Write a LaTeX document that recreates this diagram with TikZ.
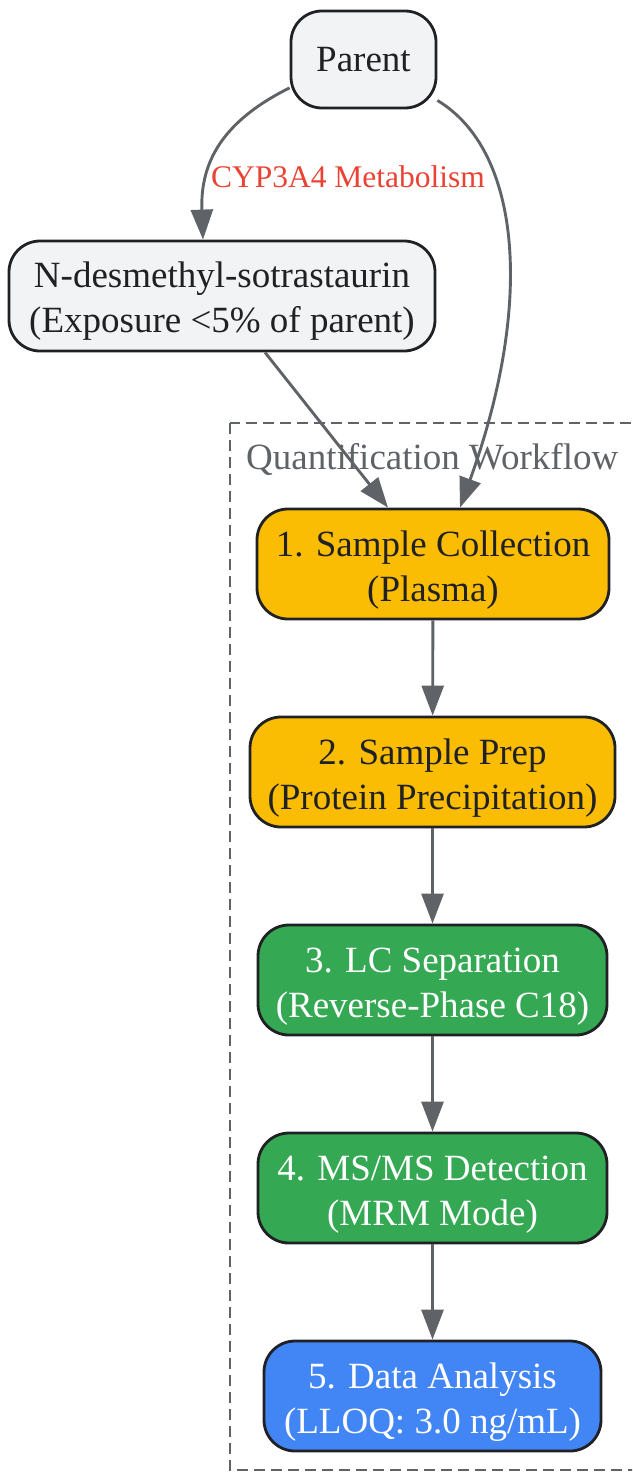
\documentclass[tikz,border=0pt]{standalone}
\usepackage{fontspec}
\setmainfont{Liberation Serif}
\usetikzlibrary{arrows.meta}
\definecolor{greyfill}{HTML}{F1F3F4}
\definecolor{ink}{HTML}{202124}
\definecolor{edgegrey}{HTML}{5F6368}
\definecolor{yelfill}{HTML}{FBBC04}
\definecolor{grnfill}{HTML}{34A853}
\definecolor{blufill}{HTML}{4285F4}
\definecolor{lblred}{HTML}{EA4335}
\newcommand{\lowtext}[2]{\raisebox{-#1}[\height][\depth]{\begin{tabular}{@{}c@{}}#2\end{tabular}}}
\tikzset{
  box/.style={draw=ink, line width=2.8pt, rounded corners=31pt, align=center, inner sep=0pt,
    minimum height=110pt, font=\fontsize{37}{45}\selectfont, text=ink},
  greybox/.style={box, fill=greyfill},
  yelbox/.style={box, fill=yelfill},
  grnbox/.style={box, fill=grnfill, text=white},
  blubox/.style={box, fill=blufill, text=white},
  conn/.style={draw=edgegrey, line width=2.9pt, -{Triangle[length=30pt,width=22pt]}},
}
\begin{document}
\begin{tikzpicture}[x=1pt,y=-1pt]
\useasboundingbox (0,0) rectangle (632,1472);
\clip (0,0) rectangle (632,1472);
% cluster
\draw[edgegrey, line width=2.8pt, dash pattern=on 11pt off 6pt] (230,423) rectangle (650,1470);
\node[text=edgegrey, font=\fontsize{37}{45}\selectfont, anchor=west, inner sep=0pt] (cl) at (246,459) {Quantification Workflow};
% nodes
\node[greybox, minimum width=145pt, minimum height=97pt] (parent) at (363.5,59.5) {\lowtext{3pt}{Parent}};
\node[greybox, minimum width=426pt] (nd) at (222,296) {\lowtext{5pt}{N-desmethyl-sotrastaurin\\(Exposure <5\% of parent)}};
\node[yelbox, minimum width=352pt] (n1) at (433,564) {\lowtext{6pt}{1. Sample Collection\\(Plasma)}};
\node[yelbox, minimum width=365pt] (n2) at (432.5,772) {\lowtext{6pt}{2. Sample Prep\\(Protein Precipitation)}};
\node[grnbox, minimum width=349pt] (n3) at (432.5,980) {\lowtext{6pt}{3. LC Separation\\(Reverse-Phase C18)}};
\node[grnbox, minimum width=349pt] (n4) at (432.5,1188) {\lowtext{6pt}{4. MS/MS Detection\\(MRM Mode)}};
\node[blubox, minimum width=337pt] (n5) at (432.5,1396) {\lowtext{6pt}{5. Data Analysis\\(LLOQ: 3.0 ng/mL)}};
% edges
\draw[conn] (parent.201) .. controls (225,120) and (200,160) .. ([xshift=-19pt]nd.north);
\node[text=lblred, font=\fontsize{31.5}{38}\selectfont, inner sep=0pt] (lbl) at (348,177) {CYP3A4 Metabolism};
\draw[conn] (parent.331) .. controls (520,150) and (535,300) .. ([xshift=27pt]n1.north);
\draw[conn] ([xshift=43pt]nd.south) -- ([xshift=-45pt]n1.north);
\draw[conn] (n1) -- (n2);
\draw[conn] (n2) -- (n3);
\draw[conn] (n3) -- (n4);
\draw[conn] (n4) -- (n5);
\end{tikzpicture}
\end{document}
